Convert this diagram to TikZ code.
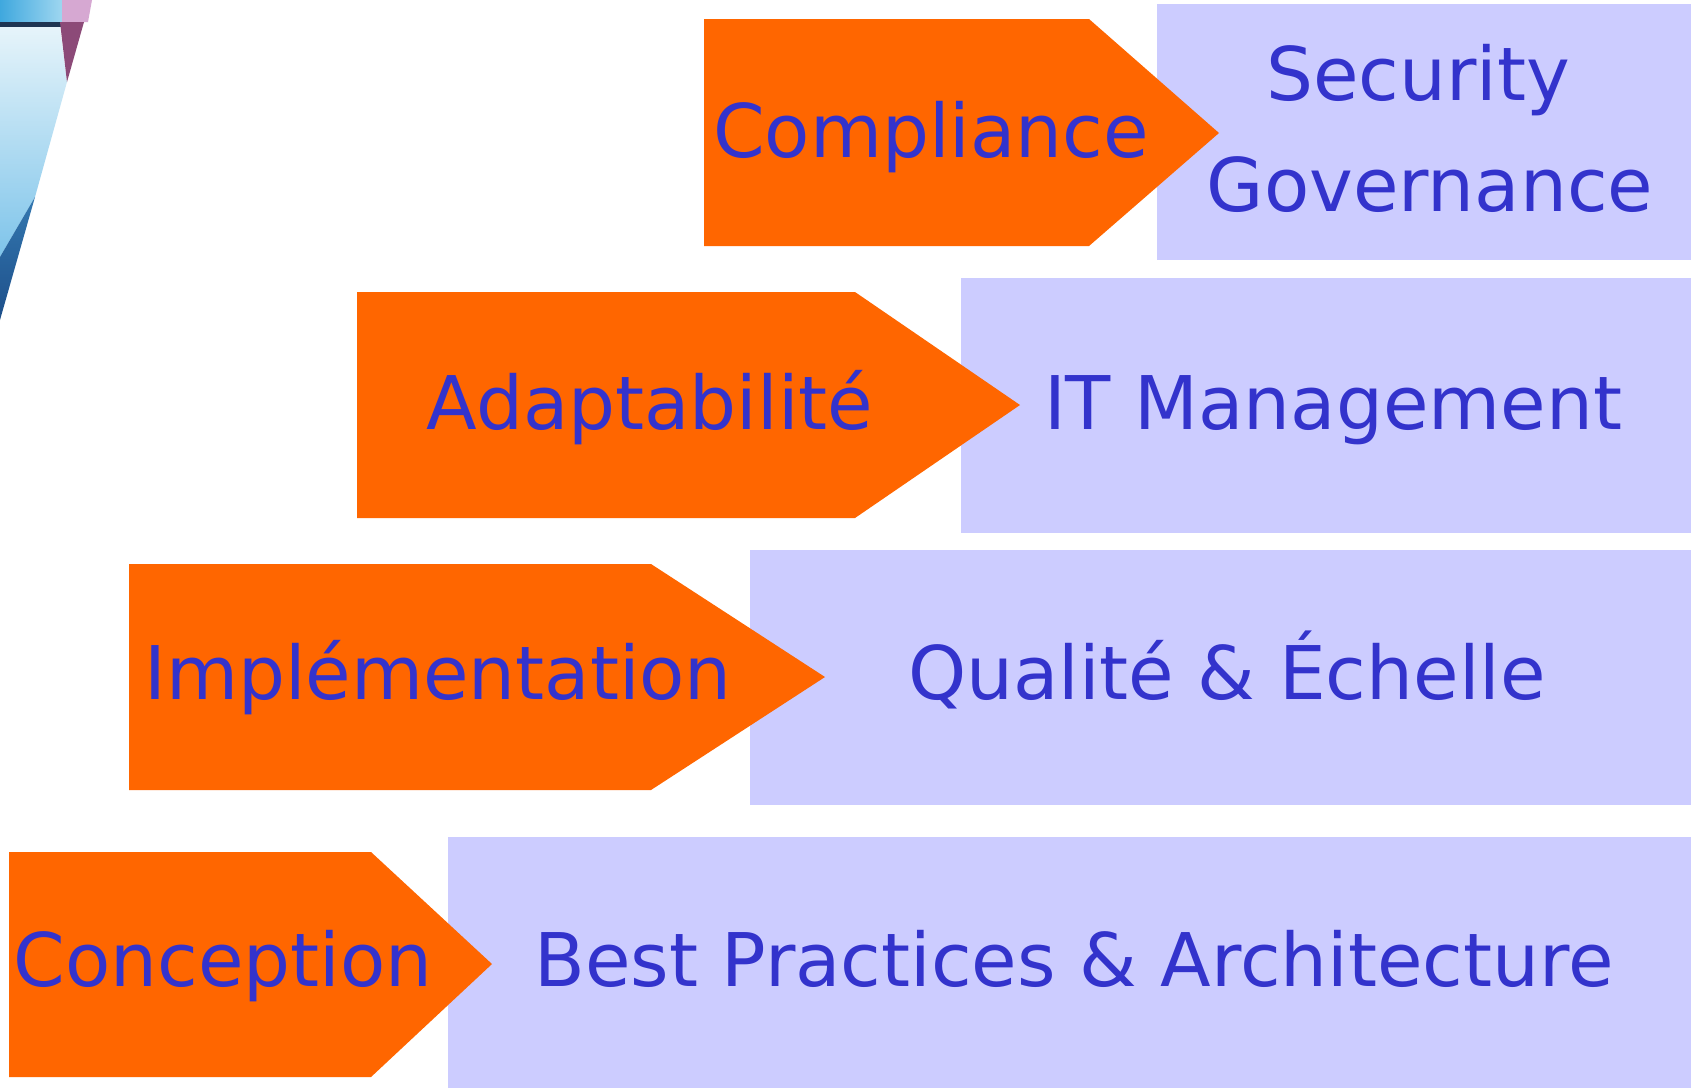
\documentclass[tikz,border=0pt]{standalone}
\usepackage{fontspec}
\setmainfont{DejaVu Sans}
\definecolor{arroworange}{HTML}{FF6600}
\definecolor{boxlav}{HTML}{CCCCFF}
\definecolor{txtblue}{HTML}{3333CC}
\definecolor{fraglighttop}{HTML}{E6F4FA}
\definecolor{fraglightbot}{HTML}{7EC4EA}
\definecolor{fragdarktop}{HTML}{3478B0}
\definecolor{fragdarkbot}{HTML}{1D4F8A}
\definecolor{fragband}{HTML}{3FA8DE}
\definecolor{fragbandlight}{HTML}{9ED6F0}
\definecolor{fragpink}{HTML}{D6A8D2}
\definecolor{fragline}{HTML}{1E3552}
\definecolor{fragpurple}{HTML}{8C4A78}
\tikzset{
  lavbox/.style={fill=boxlav, draw=none},
  orangearrow/.style={fill=arroworange, draw=none},
  lbl/.style={text=txtblue, inner sep=0pt, anchor=base, font=\fontsize{74}{80}\selectfont},
}
\begin{document}
\begin{tikzpicture}[x=1pt,y=-1pt]
\useasboundingbox (0,0) rectangle (1691,1088);
\fill[white] (0,0) rectangle (1691,1088);
% decorative fragment top-left
\shade[top color=fraglighttop, bottom color=fraglightbot] (0,27) -- (60,27) -- (67,82) -- (35,197) -- (0,257) -- cycle;
\shade[top color=fragdarktop, bottom color=fragdarkbot] (35,197) -- (0,257) -- (0,320) -- cycle;
\shade[left color=fragband, right color=fragbandlight] (0,0) -- (62,0) -- (62,22) -- (0,22) -- cycle;
\fill[fragpink] (62,0) -- (92,0) -- (88,22) -- (62,22) -- cycle;
\fill[fragline] (0,22) rectangle (62,27);
\fill[fragpurple] (60,22) -- (84,22) -- (67,82) -- cycle;
% lavender boxes
\path[lavbox] (1157,4) rectangle (1691,260);
\path[lavbox] (961,278) rectangle (1691,533);
\path[lavbox] (750,550) rectangle (1691,805);
\path[lavbox] (448,837) rectangle (1691,1088);
% orange arrows
\path[orangearrow] (704,19) -- (1089,19) -- (1219,133) -- (1089,246) -- (704,246) -- cycle;
\path[orangearrow] (357,292) -- (855,292) -- (1020,405) -- (855,518) -- (357,518) -- cycle;
\path[orangearrow] (129,564) -- (651,564) -- (825,677) -- (651,790) -- (129,790) -- cycle;
\path[orangearrow] (9,852) -- (371,852) -- (492,964) -- (371,1077) -- (9,1077) -- cycle;
% labels
\node[lbl] (compliance) at (931,157) {Compliance};
\node[lbl] (security) at (1418,100) {Security};
\node[lbl] (governance) at (1430,211) {Governance};
\node[lbl] (adapt) at (650,429) {Adaptabilité};
\node[lbl] (itman) at (1333,429) {IT Management};
\node[lbl] (implem) at (438,699) {Implémentation};
\node[lbl] (qualite) at (1227,699) {Qualité \& Échelle};
\node[lbl] (conception) at (223,986) {Conception};
\node[lbl] (bestprac) at (1074,986) {Best Practices \& Architecture};
\end{tikzpicture}
\end{document}
